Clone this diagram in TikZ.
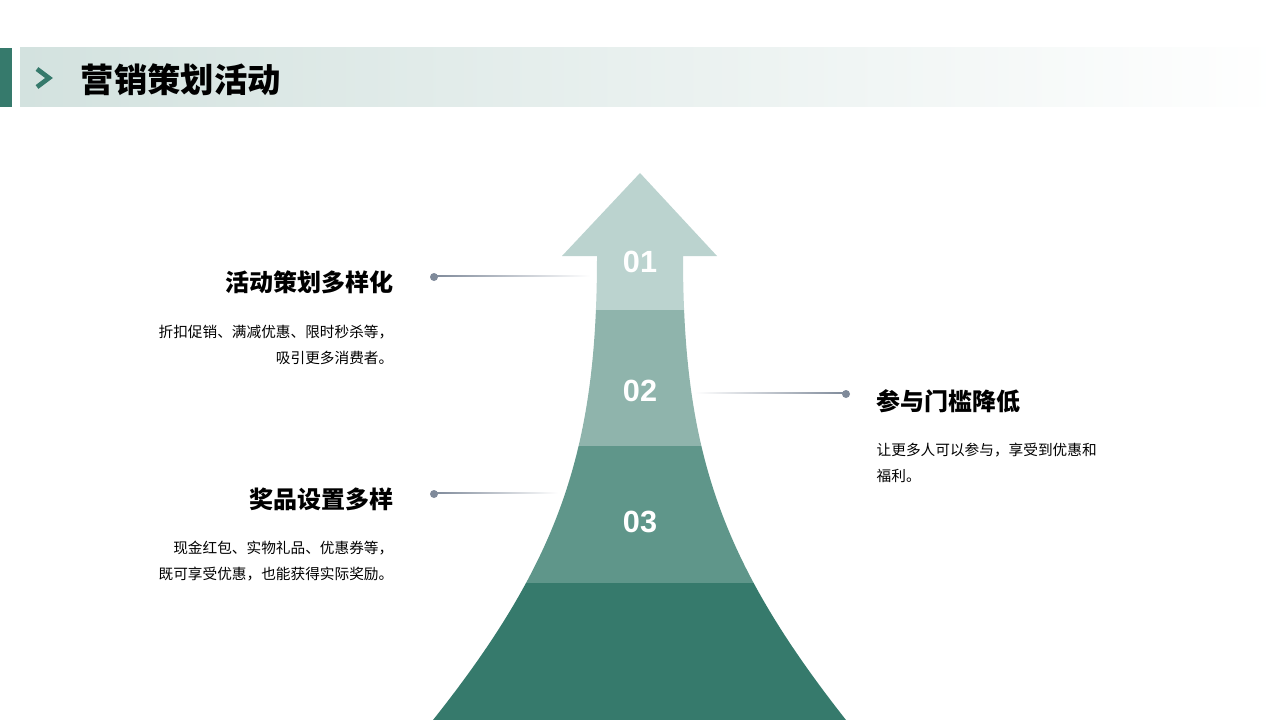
\documentclass[tikz,border=0pt]{standalone}
\usepackage{fontspec}
\setmainfont{Noto Sans CJK SC}
\newfontfamily\numfont{Liberation Sans}
\definecolor{band1}{HTML}{BBD3CF}
\definecolor{band2}{HTML}{8FB4AC}
\definecolor{band3}{HTML}{5F968A}
\definecolor{band4}{HTML}{367A6C}
\definecolor{dotgray}{HTML}{7F8A9A}
\definecolor{headbg}{HTML}{D3E2DF}
\begin{document}
\begin{tikzpicture}[
        x=0.75pt, y=-0.75pt,
        heading/.style={font=\bfseries\fontsize{18}{22}\selectfont, anchor=east},
        bodytext/.style={font=\fontsize{11}{20}\selectfont, align=right, anchor=north east},
        num/.style={text=white, font=\numfont\bfseries\fontsize{23}{26}\selectfont},
        dot/.style={circle, fill=dotgray, inner sep=0pt, minimum size=6pt},
    ]
    \useasboundingbox (0,0) rectangle (1280,720);
    % header
    \fill[band4] (0,48) rectangle (12,107);
    \shade[left color=headbg, right color=white] (20,48) rectangle (1280,107);
    \draw[band4, line width=3.5pt] (37,69) -- (49,78) -- (37,87);
    \node[anchor=west, font=\bfseries\fontsize{25}{30}\selectfont] (title) at (76,80) {营销策划活动};
    % arrow
    \begin{scope}
        \clip (640,173) -- (717,256) -- (683,256)
            .. controls (683,450) and (720,560) .. (846,720)
            -- (433,720) .. controls (560,560) and (597,450) .. (597,256)
            -- (562,256) -- cycle;
        \fill[band1] (400,160) rectangle (880,310);
        \fill[band2] (400,310) rectangle (880,446);
        \fill[band3] (400,446) rectangle (880,583);
        \fill[band4] (400,583) rectangle (880,720);
    \end{scope}
    \node[num] (n1) at (640,262) {01};
    \node[num] (n2) at (640,391) {02};
    \node[num] (n3) at (640,522) {03};
    % connectors
    \node[dot] (d1) at (434,277) {};
    \node[dot] (d2) at (846,394) {};
    \node[dot] (d3) at (434,494) {};
    \coordinate (e1) at (590,277);
    \coordinate (e2) at (695,394);
    \coordinate (e3) at (558,494);
    \shade[left color=dotgray, right color=white] (d1.center) ++(0,-1) rectangle ([yshift=1]e1);
    \shade[left color=white, right color=dotgray] (e2) ++(0,-1) rectangle ([yshift=1]d2.center);
    \shade[left color=dotgray, right color=white] (d3.center) ++(0,-1) rectangle ([yshift=1]e3);
    % texts
    \node[heading] (h1) at (398,282) {活动策划多样化};
    \node[bodytext] (b1) at (398,320) {折扣促销、满减优惠、限时秒杀等，\\吸引更多消费者。};
    \node[heading, anchor=west] (h2) at (872,401) {参与门槛降低};
    \node[bodytext, align=left, anchor=north west] (b2) at (872,438) {让更多人可以参与，享受到优惠和\\福利。};
    \node[heading] (h3) at (398,499) {奖品设置多样};
    \node[bodytext] (b3) at (398,536) {现金红包、实物礼品、优惠券等，\\既可享受优惠，也能获得实际奖励。};
\end{tikzpicture}
\end{document}
